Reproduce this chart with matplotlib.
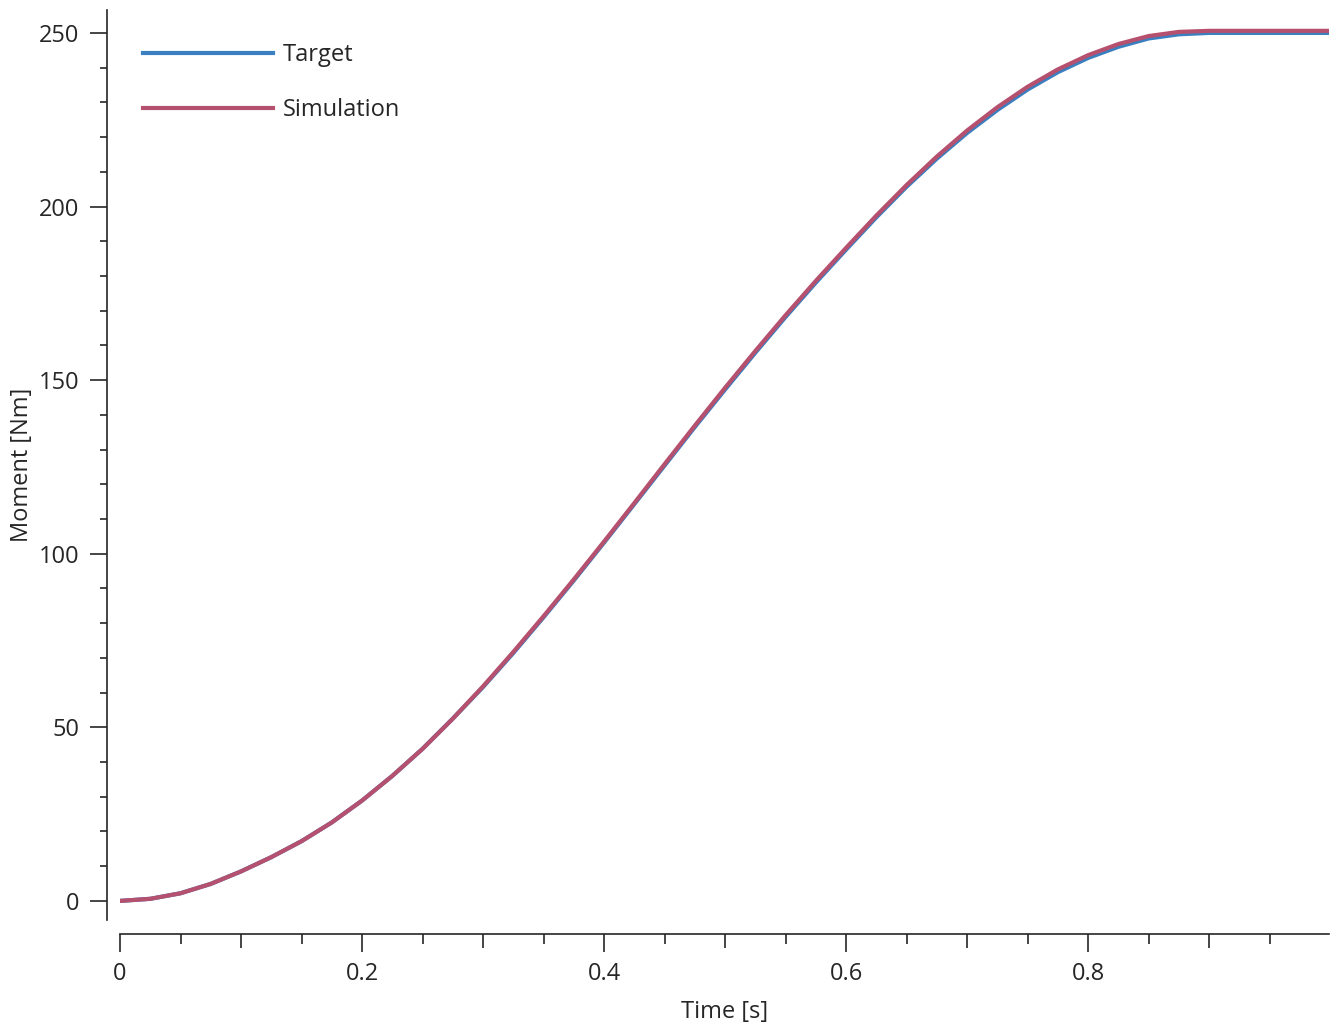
import matplotlib.pyplot as plt
from matplotlib.ticker import MultipleLocator

plt.rcParams['font.family'] = ['Open Sans', 'DejaVu Sans']

# 時間軸 [s]
time = [0.000, 0.025, 0.050, 0.075, 0.100, 0.125, 0.150, 0.175, 0.200, 0.225,
        0.250, 0.275, 0.300, 0.325, 0.350, 0.375, 0.400, 0.425, 0.450, 0.475,
        0.500, 0.525, 0.550, 0.575, 0.600, 0.625, 0.650, 0.675, 0.700, 0.725,
        0.750, 0.775, 0.800, 0.825, 0.850, 0.875, 0.900, 0.925, 0.950, 0.975,
        1.000]

# 目標モーメント [Nm]
target = [0.0, 0.6, 2.2, 4.9, 8.5, 12.6, 17.2, 22.6, 28.9, 36.0,
          43.8, 52.5, 61.6, 71.4, 81.7, 92.3, 103.2, 114.3, 125.4, 136.5,
          147.3, 157.9, 168.2, 178.1, 187.6, 196.9, 205.7, 213.8, 221.2, 227.8,
          233.7, 238.7, 242.8, 246.0, 248.4, 249.6, 250.0, 250.0, 250.0, 250.0,
          250.0]

# シミュレーション結果 [Nm]
simulation = [0.0, 0.6, 2.2, 4.9, 8.5, 12.6, 17.2, 22.6, 28.9, 36.0,
              43.8, 52.5, 61.8, 71.7, 82.0, 92.6, 103.5, 114.6, 125.8, 136.9,
              147.8, 158.4, 168.7, 178.6, 188.1, 197.4, 206.2, 214.4, 221.9, 228.6,
              234.5, 239.5, 243.6, 246.8, 249.1, 250.3, 250.6, 250.6, 250.6, 250.6,
              250.6]

text_color = '#262626'

fig = plt.figure(figsize=(13.39, 10.24), dpi=100)
ax = fig.add_axes([120/1339, 104/1024, 1209/1339, 910/1024])

ax.plot(time, target, color='#3a7fc0', lw=3.0, label='Target')
ax.plot(time, simulation, color='#b5506e', lw=3.0, label='Simulation')

ax.set_xlim(0, 0.999)
ax.set_ylim(-5.5, 256.6)

# 軸の見た目
for s in ['top', 'right']:
    ax.spines[s].set_visible(False)
ax.spines['left'].set_position(('outward', 9.4))
ax.spines['bottom'].set_position(('outward', 10))
ax.spines['bottom'].set_bounds(0, 0.999)
for s in ['left', 'bottom']:
    ax.spines[s].set_color(text_color)
    ax.spines[s].set_linewidth(1.2)

ax.xaxis.set_minor_locator(MultipleLocator(0.05))
ax.yaxis.set_minor_locator(MultipleLocator(10))

xt = [round(i * 0.1, 1) for i in range(10)]
ax.set_xticks(xt)
ax.set_xticklabels(['0' if v == 0 else (f'{v:g}' if round(v * 10) % 2 == 0 else '') for v in xt])
ax.set_yticks([0, 50, 100, 150, 200, 250])
ax.set_yticklabels(['0', '50', '100', '150', '200', '250'])

ax.tick_params(axis='both', which='both', direction='out', colors=text_color,
               labelsize=17, width=1.2)
ax.tick_params(axis='y', which='major', length=12, pad=8)
ax.tick_params(axis='y', which='minor', length=5)
ax.tick_params(axis='x', which='major', length=10, pad=10)
ax.tick_params(axis='x', which='minor', length=7)
for tick, v in zip(ax.xaxis.get_major_ticks(), xt):
    if round(v * 10) % 2 == 0:
        tick.tick1line.set_markersize(13)

ax.set_xlabel('Time [s]', fontsize=17, color=text_color, labelpad=10)
ax.set_ylabel('Moment [Nm]', fontsize=17, color=text_color, labelpad=3)

ax.legend(loc='upper left', bbox_to_anchor=(0.0015, 0.987), frameon=False,
          fontsize=17, handlelength=5.5, handletextpad=0.4, labelspacing=1.3,
          labelcolor=text_color)

fig.savefig('out.png', dpi=100)
